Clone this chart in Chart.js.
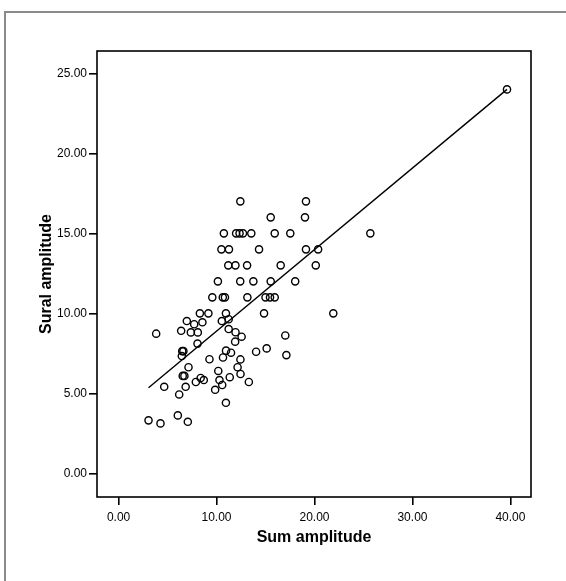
<!DOCTYPE html>
<html>
<head>
<meta charset="utf-8">
<script src="https://cdn.jsdelivr.net/npm/chart.js@4.4.1/dist/chart.umd.min.js"></script>
<style>
  html, body { margin: 0; padding: 0; background: #fff; }
  canvas { display: block; }
</style>
</head>
<body>
<canvas id="scatter" width="566" height="581"></canvas>
<script>
// sum amplitude (x) and sural amplitude (y) per subject
const sumAmp = [
    39.65,
    12.43, 19.13,
    15.53, 19.03,
    10.75, 12.0, 12.35, 12.7, 13.55, 15.94, 17.53, 25.7,
    10.5, 11.27, 14.34, 19.13, 20.37,
    11.2, 11.93, 13.12, 16.55, 20.13,
    10.14, 12.42, 13.76, 15.53, 18.03,
    9.57, 10.64, 10.86, 13.15, 15.0, 15.46, 15.94,
    8.3, 9.17, 10.96, 14.85, 21.92,
    6.97, 7.72, 8.56, 10.54, 11.24, 6.39, 7.38, 8.09, 3.84, 11.24,
    11.94, 12.56, 11.9, 8.06, 6.5, 6.62, 6.46, 10.97, 11.48, 10.66,
    9.28, 12.44, 7.14, 12.15, 10.18, 12.45, 6.55, 6.72, 8.38, 8.7,
    7.89, 10.3, 11.35, 10.58, 6.85, 9.86, 4.66, 6.19, 10.96, 3.06,
    4.28, 6.05, 7.07, 13.3, 17.02, 14.04, 15.12, 17.13
]
const suralAmp = [
    24,
    17, 17,
    16, 16,
    15, 15, 15, 15, 15, 15, 15, 15,
    14, 14, 14, 14, 14,
    13, 13, 13, 13, 13,
    12, 12, 12, 12, 12,
    11, 11, 11, 11, 11, 11, 11,
    10, 10, 10, 10, 10,
    9.52, 9.32, 9.44, 9.52, 9.63, 8.91, 8.81, 8.81, 8.73, 9.02,
    8.82, 8.54, 8.23, 8.11, 7.64, 7.64, 7.33, 7.67, 7.54, 7.24,
    7.13, 7.12, 6.63, 6.63, 6.4, 6.21, 6.09, 6.09, 5.96, 5.83,
    5.71, 5.83, 6.01, 5.52, 5.41, 5.22, 5.41, 4.93, 4.41, 3.31,
    3.12, 3.62, 3.22, 5.71, 8.62, 7.6, 7.81, 7.39
]

// fitted line end points
const fitX = [3.06, 39.65]
const fitY = [5.35, 24.0]

const xTicks = [0, 10, 20, 30, 40]
const yTicks = [0, 5, 10, 15, 20, 25]

const fontFamily = '"Liberation Sans", Arial, sans-serif'

const framePlugin = {
    id: 'frame',
    beforeDraw(chart) {
        const ctx = chart.ctx
        ctx.save()
        ctx.fillStyle = '#fff'
        ctx.fillRect(0, 0, chart.width, chart.height)
        ctx.restore()
    },
    afterDraw(chart) {
        const {ctx, chartArea} = chart
        ctx.save()
        // outer panel border
        ctx.strokeStyle = '#8a8a8a'
        ctx.lineWidth = 2
        ctx.strokeRect(5, 12, 700, 700)
        // plot box
        ctx.strokeStyle = '#000'
        ctx.lineWidth = 1.6
        ctx.strokeRect(chartArea.left, chartArea.top, chartArea.right - chartArea.left, chartArea.bottom - chartArea.top)
        ctx.restore()
    }
}

const points = sumAmp.map((x, i) => ({x: x, y: suralAmp[i]}))
const fitLine = fitX.map((x, i) => ({x: x, y: fitY[i]}))

new Chart(document.getElementById('scatter'), {
    type: 'scatter',
    data: {
        datasets: [
            {
                data: fitLine,
                showLine: true,
                borderColor: '#000',
                borderWidth: 1.4,
                pointRadius: 0,
                fill: false,
            },
            {
                data: points,
                pointStyle: 'circle',
                pointRadius: 3.6,
                pointBorderWidth: 1.4,
                borderColor: '#000',
                backgroundColor: 'rgba(0,0,0,0)',
            },
        ]
    },
    options: {
        responsive: false,
        animation: false,
        layout: {padding: {top: 51, right: 35, left: 0, bottom: 0}},
        plugins: {
            legend: {display: false},
            tooltip: {enabled: false},
        },
        scales: {
            x: {
                type: 'linear',
                min: -2.2,
                max: 42.1,
                afterBuildTicks: s => { s.ticks = xTicks.map(v => ({value: v})) },
                afterFit: s => { s.height = 84 },
                border: {display: false},
                grid: {drawOnChartArea: false, drawTicks: true, tickLength: 8, color: '#000', lineWidth: 1.6},
                ticks: {
                    color: '#000',
                    padding: 5,
                    maxRotation: 0,
                    font: {family: fontFamily, size: 12},
                    callback: v => v.toFixed(2),
                },
                title: {
                    display: true,
                    text: 'Sum amplitude',
                    color: '#000',
                    font: {family: fontFamily, size: 16, weight: 'bold'},
                    padding: {top: 0, bottom: 34},
                },
            },
            y: {
                type: 'linear',
                min: -1.48,
                max: 26.4,
                afterBuildTicks: s => { s.ticks = yTicks.map(v => ({value: v})) },
                afterFit: s => { s.width = 97 },
                border: {display: false},
                grid: {drawOnChartArea: false, drawTicks: true, tickLength: 8, color: '#000', lineWidth: 1.6},
                ticks: {
                    color: '#000',
                    padding: 2,
                    font: {family: fontFamily, size: 12},
                    callback: v => v.toFixed(2),
                },
                title: {
                    display: true,
                    text: 'Sural amplitude',
                    color: '#000',
                    font: {family: fontFamily, size: 16, weight: 'bold'},
                    padding: {top: 37.4, bottom: 0},
                },
            },
        },
    },
    plugins: [framePlugin],
})
</script>
</body>
</html>
